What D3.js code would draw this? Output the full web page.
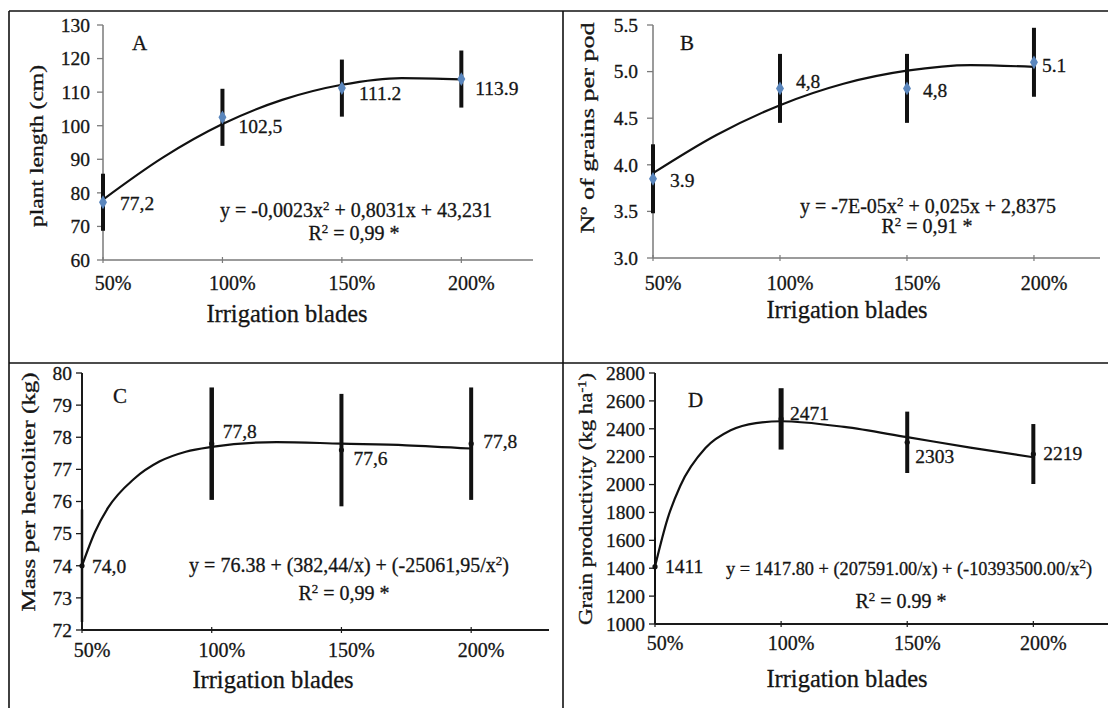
<!DOCTYPE html>
<html>
<head>
<meta charset="utf-8">
<script src="https://cdn.jsdelivr.net/npm/d3@7"></script>
<style>
  body { margin: 0; background: #fff; }
  svg text { font-family: "Liberation Serif", "Times New Roman", serif; fill: #151515; stroke: #151515; stroke-width: 0.3px; }
</style>
</head>
<body>
<div id="chart"></div>
<script>
// shared x categories
var irrigation = [50, 100, 150, 200];
var irrigationLabels = ["50%", "100%", "150%", "200%"];

// A - plant length
var plantLength = [77.2, 102.5, 111.2, 113.9];
var plantLengthErr = [8.5, 8.5, 8.5, 8.5];
var plantLengthText = ["77,2", "102,5", "111.2", "113.9"];
var plantTicks = [60, 70, 80, 90, 100, 110, 120, 130];
var plantTrendX = [50, 75, 100, 125, 150, 175, 200];
var plantTrendY = [78.0, 90.5, 100.5, 107.7, 112.2, 114.2, 113.8];

// B - grains per pod
var grains = [3.85, 4.82, 4.82, 5.1];
var grainsErr = [0.37, 0.37, 0.37, 0.37];
var grainsText = ["3.9", "4,8", "4,8", "5.1"];
var grainsTicks = [3.0, 3.5, 4.0, 4.5, 5.0, 5.5];
var grainsTrendX = [50, 75, 100, 125, 150, 175, 200];
var grainsTrendY = [3.91, 4.32, 4.64, 4.87, 5.01, 5.07, 5.05];

// C - mass per hectoliter
var hectoliter = [74.0, 77.8, 77.6, 77.8];
var hectoliterErr = [1.75, 1.75, 1.75, 1.75];
var hectoliterText = ["74,0", "77,8", "77,6", "77,8"];
var hectoliterTicks = [72, 73, 74, 75, 76, 77, 78, 79, 80];
var hectoliterTrendX = [50, 55, 60, 70, 80, 90, 100, 125, 150, 175, 200];
var hectoliterTrendY = [74.0, 75.05, 75.8, 76.7, 77.25, 77.55, 77.7, 77.85, 77.8, 77.75, 77.65];

// D - grain productivity
var productivity = [1411, 2471, 2303, 2219];
var productivityErr = [210, 220, 220, 215];
var productivityText = ["1411", "2471", "2303", "2219"];
var productivityTicks = [1000, 1200, 1400, 1600, 1800, 2000, 2200, 2400, 2600, 2800];
var productivityTrendX = [50, 55, 60, 70, 80, 90, 100, 125, 150, 175, 200];
var productivityTrendY = [1412, 1756, 1990, 2262, 2389, 2441, 2454, 2413, 2340, 2265, 2196];

var width = 1108, height = 708;

var svg = d3.select("#chart")
  .append("svg")
  .attr("width", width)
  .attr("height", height);

svg.append("rect").attr("width", width).attr("height", height).attr("fill", "#fff");

// panel frame
var frame = svg.append("g").attr("stroke", "#111").attr("stroke-width", 1.6);
frame.append("line").attr("x1", 9).attr("x2", width).attr("y1", 11).attr("y2", 11);
frame.append("line").attr("x1", 9).attr("x2", 9).attr("y1", 11).attr("y2", height);
frame.append("line").attr("x1", 563).attr("x2", 563).attr("y1", 11).attr("y2", height);
frame.append("line").attr("x1", 9).attr("x2", width).attr("y1", 363).attr("y2", 363);

var panels = [
  {
    letter: "A", letterPos: [132, 50],
    values: plantLength, err: plantLengthErr, text: plantLengthText,
    ticks: plantTicks, tickFmt: d3.format("d"),
    trendX: plantTrendX, trendY: plantTrendY,
    x: [103, 533], xDomain: [50, 230],
    y: [260, 25], yDomain: [60, 130],
    axisColor: "#7a7a7a", axisWidth: 1.5,
    tickLabelY: 290, yLabelGap: 13,
    title: "plant length (cm)", titlePos: [36, 146], titleLen: 162,
    xTitlePos: [287, 322],
    eq: ["y = -0,0023x", "2", " + 0,8031x + 43,231"], eqPos: [356, 217], eqSize: 20,
    r2Rest: " = 0,99 *", r2Pos: [354, 240],
    marker: "diamond", barW: [4, 4, 4, 4],
    labelOff: [[17, 8], [16, 16], [17, 12], [14, 16]]
  },
  {
    letter: "B", letterPos: [680, 50],
    values: grains, err: grainsErr, text: grainsText,
    ticks: grainsTicks, tickFmt: d3.format(".1f"),
    trendX: grainsTrendX, trendY: grainsTrendY,
    x: [653, 1100], xDomain: [50, 226],
    y: [258, 25], yDomain: [3.0, 5.5],
    axisColor: "#7a7a7a", axisWidth: 1.5,
    tickLabelY: 290, yLabelGap: 15,
    title: "N\u00BA of grains per pod", titlePos: [587, 128], titleLen: 211,
    xTitlePos: [847, 318],
    eq: ["y = -7E-05x", "2", " + 0,025x + 2,8375"], eqPos: [928, 213], eqSize: 20,
    r2Rest: " = 0,91 *", r2Pos: [927, 233],
    marker: "diamond", barW: [4, 4, 4, 4],
    labelOff: [[17, 8], [16, 0], [16, 9], [8, 10]]
  },
  {
    letter: "C", letterPos: [113, 403],
    values: hectoliter, err: hectoliterErr, text: hectoliterText,
    ticks: hectoliterTicks, tickFmt: d3.format("d"),
    trendX: hectoliterTrendX, trendY: hectoliterTrendY,
    x: [82, 549], xDomain: [50, 230],
    y: [630, 373], yDomain: [72, 80],
    axisColor: "#1a1a1a", axisWidth: 2,
    tickLabelY: 657, yLabelGap: 10,
    title: "Mass per hectoliter (kg)", titlePos: [28, 492], titleLen: 239,
    xTitlePos: [273, 688],
    eq: ["y = 76.38 + (382,44/x) + (-25061,95/x", "2", ")"], eqPos: [349, 572], eqSize: 20,
    r2Rest: " = 0,99 *", r2Pos: [344, 600],
    marker: "dot", barW: [2.5, 4.5, 4, 4],
    labelOff: [[10, 7], [11, -6], [12, 15], [12, 4]]
  },
  {
    letter: "D", letterPos: [688, 407],
    values: productivity, err: productivityErr, text: productivityText,
    ticks: productivityTicks, tickFmt: d3.format("d"),
    trendX: productivityTrendX, trendY: productivityTrendY,
    x: [655, 1109], xDomain: [50, 230],
    y: [624, 373], yDomain: [1000, 2800],
    axisColor: "#1a1a1a", axisWidth: 2,
    tickLabelY: 650, yLabelGap: 10,
    title: "Grain productivity  (kg ha", titleSup: "-1", titleEnd: ")", titlePos: [585, 499], titleLen: 252,
    xTitlePos: [847, 687],
    eq: ["y = 1417.80 + (207591.00/x)  + (-10393500.00/x", "2", ")"], eqPos: [726, 575], eqSize: 18.3, eqAnchor: "start",
    r2Rest: " = 0.99 *", r2Pos: [901, 608],
    marker: "dot", barW: [2, 5, 4, 4],
    labelOff: [[10, 6], [9, 1], [8, 21], [10, 6]]
  }
];

panels.forEach(function(p) {
  var g = svg.append("g");
  var xScale = d3.scaleLinear().domain(p.xDomain).range(p.x);
  var yScale = d3.scaleLinear().domain(p.yDomain).range(p.y);
  var x0 = p.x[0];
  var yBase = p.y[0];

  // axes lines
  g.append("line")
    .attr("x1", x0).attr("x2", x0)
    .attr("y1", p.y[1]).attr("y2", yBase)
    .attr("stroke", p.axisColor).attr("stroke-width", p.axisWidth);
  g.append("line")
    .attr("x1", x0).attr("x2", p.x[1])
    .attr("y1", yBase).attr("y2", yBase)
    .attr("stroke", p.axisColor).attr("stroke-width", p.axisWidth);

  // y ticks
  g.selectAll(".ytick").data(p.ticks).enter()
    .append("line")
    .attr("x1", x0 - 6).attr("x2", x0)
    .attr("y1", d => yScale(d)).attr("y2", d => yScale(d))
    .attr("stroke", p.axisColor).attr("stroke-width", 1.3);
  g.selectAll(".ylab").data(p.ticks).enter()
    .append("text")
    .attr("x", x0 - p.yLabelGap)
    .attr("y", d => yScale(d))
    .attr("dy", "0.35em")
    .attr("text-anchor", "end")
    .attr("font-size", 19.5)
    .text(d => p.tickFmt(d));

  // x ticks
  g.selectAll(".xtick").data(irrigation).enter()
    .append("line")
    .attr("x1", d => xScale(d)).attr("x2", d => xScale(d))
    .attr("y1", yBase - 3).attr("y2", yBase + 3)
    .attr("stroke", p.axisColor).attr("stroke-width", 1.2);
  g.selectAll(".xlab").data(irrigation).enter()
    .append("text")
    .attr("x", d => xScale(d) + 10)
    .attr("y", p.tickLabelY)
    .attr("text-anchor", "middle")
    .attr("font-size", 20)
    .text((d, i) => irrigationLabels[i]);

  // axis titles
  g.append("text")
    .attr("x", p.xTitlePos[0]).attr("y", p.xTitlePos[1])
    .attr("text-anchor", "middle")
    .attr("font-size", 24.5)
    .text("Irrigation blades");

  var yt = g.append("text")
    .attr("transform", "translate(" + p.titlePos[0] + "," + p.titlePos[1] + ") rotate(-90)")
    .attr("text-anchor", "middle")
    .attr("dy", "0.35em")
    .attr("font-size", 19)
    .attr("textLength", p.titleLen)
    .attr("lengthAdjust", "spacingAndGlyphs");
  yt.append("tspan").text(p.title);
  if (p.titleSup) {
    yt.append("tspan").attr("dy", -6).attr("font-size", 12).text(p.titleSup);
    yt.append("tspan").attr("dy", 6).text(p.titleEnd);
  }

  // panel letter
  g.append("text")
    .attr("x", p.letterPos[0]).attr("y", p.letterPos[1])
    .attr("font-size", 21)
    .text(p.letter);

  // error bars
  g.selectAll(".err").data(p.values).enter()
    .append("line")
    .attr("x1", (d, i) => xScale(irrigation[i]))
    .attr("x2", (d, i) => xScale(irrigation[i]))
    .attr("y1", (d, i) => yScale(d - p.err[i]))
    .attr("y2", (d, i) => yScale(d + p.err[i]))
    .attr("stroke", "#111")
    .attr("stroke-width", (d, i) => p.barW[i]);

  // trend curve
  var line = d3.line()
    .x((d, i) => xScale(p.trendX[i]))
    .y(d => yScale(d))
    .curve(d3.curveMonotoneX);
  g.append("path")
    .attr("d", line(p.trendY))
    .attr("fill", "none")
    .attr("stroke", "#111")
    .attr("stroke-width", 2.2);

  // markers
  if (p.marker === "diamond") {
    g.selectAll(".mk").data(p.values).enter()
      .append("path")
      .attr("d", d3.symbol().type(d3.symbolDiamond).size(55))
      .attr("transform", (d, i) => "translate(" + xScale(irrigation[i]) + "," + yScale(d) + ")")
      .attr("fill", "#5a86bd");
  } else {
    g.selectAll(".mk").data(p.values).enter()
      .append("circle")
      .attr("cx", (d, i) => xScale(irrigation[i]))
      .attr("cy", d => yScale(d))
      .attr("r", 2.6)
      .attr("fill", "#111");
  }

  // data labels
  g.selectAll(".dl").data(p.values).enter()
    .append("text")
    .attr("x", (d, i) => xScale(irrigation[i]) + p.labelOff[i][0])
    .attr("y", (d, i) => yScale(d) + p.labelOff[i][1])
    .attr("font-size", 19.5)
    .text((d, i) => p.text[i]);

  // equation and R2
  var t = g.append("text")
    .attr("x", p.eqPos[0]).attr("y", p.eqPos[1])
    .attr("text-anchor", p.eqAnchor || "middle")
    .attr("font-size", p.eqSize);
  t.append("tspan").text(p.eq[0]);
  t.append("tspan").attr("dy", -7).attr("font-size", 13).text(p.eq[1]);
  t.append("tspan").attr("dy", 7).text(p.eq[2]);

  var r = g.append("text")
    .attr("x", p.r2Pos[0]).attr("y", p.r2Pos[1])
    .attr("text-anchor", "middle")
    .attr("font-size", 20);
  r.append("tspan").text("R");
  r.append("tspan").attr("dy", -7).attr("font-size", 13).text("2");
  r.append("tspan").attr("dy", 7).text(p.r2Rest);
});
</script>
</body>
</html>
